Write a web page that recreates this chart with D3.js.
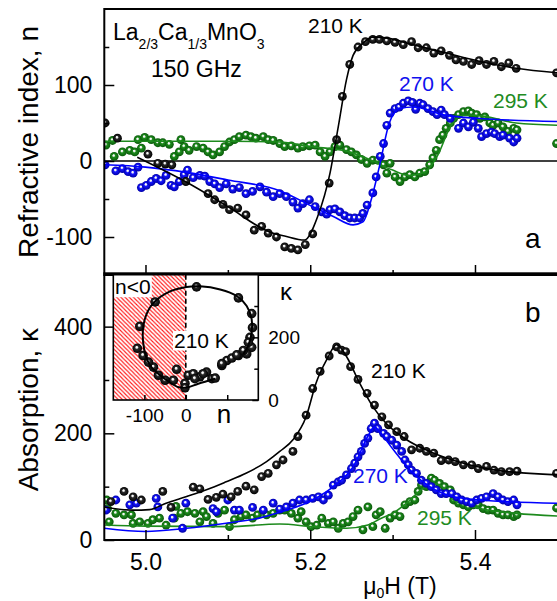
<!DOCTYPE html>
<html>
<head>
<meta charset="utf-8">
<script src="https://cdn.jsdelivr.net/npm/d3@7"></script>
<style>
  body { margin: 0; background: #fff; }
  svg { display: block; font-family: "Liberation Sans", Arial, Helvetica, sans-serif; }
</style>
</head>
<body>
<div id="chart"></div>
<script>
// ---------- data (field in T) ----------
// panel a: refractive index n
const topBlackH = [4.951,4.966,5.003,5.015,5.024,5.032,5.049,5.076,5.084,5.094,5.102,5.112,5.122,5.132,5.141,5.149,5.159,5.169,5.177,5.185,5.194,5.203,5.223,5.232,5.239,5.248,5.258,5.267,5.276,5.284,5.293,5.303,5.313,5.323,5.331,5.341,5.350,5.359,5.369,5.377,5.386,5.396,5.405,5.414,5.423,5.432,5.441,5.450,5.499];
const topBlackN = [50,30,9,-3,-4,-5,-27,-43,-51,-57,-64,-62,-71,-91,-86,-95,-100,-113,-115,-117,-110,-96,-29,28,85,127,150,157,160,160,158,156,153,157,149,149,142,145,139,133,131,127,132,127,131,124,129,122,116];
const topBlackFitH = [4.99,5.05,5.10,5.15,5.17,5.193,5.209,5.224,5.234,5.244,5.252,5.264,5.276,5.292,5.325,5.365,5.406,5.45,5.5];
const topBlackFitN = [5,-28,-60,-93,-99,-104,-73,-16,45,107,139,155,163,162,153,142,131,122,116];

const topBlueH = [4.951,4.964,4.972,4.979,4.985,4.991,4.995,5.001,5.007,5.013,5.019,5.025,5.031,5.035,5.041,5.047,5.051,5.058,5.066,5.072,5.078,5.084,5.090,5.098,5.106,5.114,5.122,5.130,5.139,5.147,5.155,5.163,5.171,5.179,5.185,5.191,5.199,5.206,5.214,5.220,5.224,5.230,5.236,5.242,5.248,5.254,5.260,5.264,5.269,5.276,5.280,5.285,5.289,5.293,5.297,5.303,5.308,5.313,5.319,5.324,5.328,5.333,5.337,5.343,5.349,5.354,5.359,5.363,5.370,5.380,5.386,5.392,5.398,5.404,5.408,5.414,5.420,5.424,5.430,5.434,5.442,5.447,5.451];
const topBlueN = [-5,-13,-10,-14,-16,-8,-35,-32,-27,-23,-26,-19,-32,-34,-27,-18,-12,-22,-19,-20,-27,-30,-35,-30,-37,-35,-43,-40,-34,-41,-47,-43,-47,-54,-62,-56,-51,-60,-67,-70,-64,-63,-67,-72,-75,-75,-75,-69,-58,-42,-21,6,23,47,63,69,71,76,79,77,68,76,74,69,65,61,67,61,56,43,50,45,51,43,32,36,38,36,32,34,30,25,30];
const topBlueFitH = [4.95,5.0,5.05,5.1,5.163,5.203,5.228,5.252,5.264,5.274,5.284,5.296,5.309,5.325,5.365,5.406,5.5];
const topBlueFitN = [-5,-8,-15,-25,-39,-60,-73,-84,-80,-51,-7,50,69,71,60,56,52];

const topGreenH = [4.952,4.960,4.991,4.999,5.007,5.015,5.021,5.029,5.043,4.962,4.972,4.981,4.987,4.995,5.035,5.041,5.047,5.053,5.062,5.070,5.076,5.082,5.090,5.096,5.102,5.108,5.114,5.122,5.128,5.134,5.143,5.149,5.155,5.163,5.169,5.177,5.185,5.191,5.199,5.206,5.212,5.218,5.224,5.230,5.236,5.244,5.250,5.256,5.262,5.269,5.276,5.282,5.289,5.293,5.297,5.303,5.309,5.315,5.321,5.327,5.333,5.339,5.345,5.349,5.353,5.357,5.361,5.365,5.370,5.374,5.380,5.386,5.392,5.396,5.402,5.406,5.412,5.418,5.422,5.428,5.434,5.440,5.447,5.451,5.499];
const topGreenN = [21,27,28,31,28,24,24,22,28,6,12,14,12,17,6,12,19,14,19,17,12,8,12,19,25,28,32,34,32,30,32,28,27,23,19,20,17,19,20,21,12,6,12,19,21,15,12,8,2,-3,1,1,-5,-16,-3,-21,-27,-21,-18,-21,-16,-14,-5,4,14,28,34,43,50,56,61,65,66,63,61,56,58,50,47,50,45,39,43,41,23];
const topGreenFitH = [4.95,5.0,5.1,5.163,5.2,5.244,5.27,5.30,5.32,5.34,5.355,5.37,5.385,5.40,5.45,5.5];
const topGreenFitN = [26,26,26,25,19,13,3,-12,-19,-14,8,45,60,60,50,47];

// panel b: absorption kappa
const botBlackH = [4.958,4.974,4.985,4.995,5.021,5.031,5.058,5.066,5.076,5.086,5.094,5.104,5.112,5.122,5.132,5.141,5.149,5.159,5.167,5.179,5.185,5.195,5.203,5.212,5.223,5.232,5.238,5.243,5.249,5.258,5.269,5.278,5.287,5.295,5.305,5.314,5.323,5.333,5.341,5.350,5.359,5.368,5.376,5.386,5.396,5.404,5.414,5.423,5.432,5.442,5.451,5.499];
const botBlackK = [72,91,81,75,91,61,99,96,76,80,86,81,91,101,94,119,125,141,150,166,194,234,284,316,345,362,356,353,325,301,275,253,231,216,203,194,169,172,166,163,149,150,147,141,141,134,138,131,128,128,129,125];
const botBlackFitH = [4.95,4.985,5.005,5.025,5.049,5.074,5.098,5.122,5.147,5.163,5.179,5.195,5.207,5.220,5.232,5.244,5.260,5.276,5.292,5.317,5.345,5.386,5.426,5.5];
const botBlackFitK = [62,56,57,69,81,94,109,125,147,166,188,231,294,338,366,344,294,250,219,188,166,144,131,122];

const botBlueH = [4.952,4.964,4.981,4.989,5.013,5.015,5.033,5.045,5.049,5.082,5.086,5.100,5.108,5.114,5.130,5.143,5.155,5.163,5.171,5.179,5.187,5.195,5.203,5.210,5.216,5.222,5.228,5.234,5.238,5.244,5.250,5.254,5.258,5.262,5.266,5.270,5.274,5.278,5.282,5.289,5.293,5.299,5.305,5.311,5.315,5.319,5.323,5.329,5.335,5.341,5.347,5.353,5.359,5.365,5.372,5.378,5.384,5.390,5.396,5.402,5.408,5.414,5.422,5.428,5.434,5.440,5.447,5.451];
const botBlueK = [56,75,66,69,78,62,41,22,69,59,53,75,56,56,61,56,69,58,62,69,75,75,78,81,75,84,103,109,112,122,134,144,156,166,181,191,209,219,209,200,194,187,178,166,150,141,131,125,112,106,100,94,87,87,87,81,75,72,69,75,78,81,87,81,75,72,75,66];
const botBlueFitH = [4.95,5.0,5.05,5.1,5.138,5.163,5.203,5.228,5.252,5.272,5.278,5.284,5.301,5.325,5.345,5.374,5.406,5.5];
const botBlueFitK = [22,16,22,32,41,52,75,100,137,200,212,203,169,125,100,81,75,69];

const botGreenH = [4.953,4.954,4.956,4.964,4.974,4.983,4.985,4.993,5.003,5.009,5.017,5.025,5.035,5.037,5.043,5.051,5.060,5.066,5.070,5.074,5.082,5.088,5.096,5.102,5.108,5.116,5.122,5.130,5.136,5.147,5.155,5.163,5.169,5.177,5.185,5.189,5.195,5.201,5.208,5.214,5.222,5.228,5.234,5.240,5.246,5.252,5.258,5.264,5.270,5.276,5.280,5.285,5.291,5.297,5.303,5.309,5.315,5.321,5.327,5.331,5.335,5.341,5.347,5.351,5.357,5.363,5.370,5.374,5.380,5.386,5.392,5.398,5.404,5.410,5.416,5.422,5.428,5.434,5.440,5.447,5.451,5.499];
const botGreenK = [75,59,34,50,47,47,31,34,31,38,41,28,41,63,50,53,50,34,53,44,31,50,56,25,38,44,47,41,47,47,50,56,56,50,41,53,34,25,28,41,31,34,22,31,34,44,56,19,62,25,47,53,22,41,47,44,66,72,75,91,103,100,116,112,106,100,94,75,69,66,62,66,66,59,56,56,50,47,47,44,47,60];
const botGreenFitH = [4.95,5.0,5.1,5.163,5.203,5.244,5.27,5.285,5.30,5.317,5.337,5.349,5.36,5.374,5.39,5.406,5.45,5.5];
const botGreenFitK = [28,26,25,30,25,22,28,40,50,69,97,106,100,75,66,59,50,45];

// inset: kappa vs n at 210 K
const insetN = [26,127,159,161,155,159,147,127,99,87,50,63,34,6,-22,-2,-2,-30,-50,-66,-78,-90,-103,-117,-111,-74,87,111,123,139,151,18,42,22,71];
const insetK = [361,326,276,231,200,168,147,142,126,110,89,68,74,79,98,53,39,63,63,79,105,121,142,165,235,313,116,134,144,158,184,84,84,68,70];
const insetFitN = [71,30,2,-20,-46,-86,-103,-99,-78,-38,2,34,83,123,147,159,159,151,139];
const insetFitK = [68,52,40,42,63,110,184,258,310,347,361,363,353,332,300,258,216,174,147];

// ---------- setup ----------
const width = 557, height = 601;
const font = "'Liberation Sans', Arial, Helvetica, sans-serif";

const svg = d3.select("#chart")
    .append("svg")
    .attr("width", width)
    .attr("height", height);

svg.append("rect").attr("width", width).attr("height", height).attr("fill", "#fff");

const x = d3.scaleLinear().domain([4.95, 5.51]).range([104.3, 565.6]);
const yTop = d3.scaleLinear().domain([-150, 200]).range([275, 9]);
const yBot = d3.scaleLinear().domain([0, 500]).range([540, 273.3]);

const defs = svg.append("defs");

// shaded sphere markers
function sphereGrad(id, mid, edge) {
    const g = defs.append("radialGradient").attr("id", id)
        .attr("cx", "50%").attr("cy", "50%").attr("r", "50%")
        .attr("fx", "42%").attr("fy", "36%");
    g.append("stop").attr("offset", "0%").attr("stop-color", "#ffffff");
    g.append("stop").attr("offset", "18%").attr("stop-color", "#f0f0f0");
    g.append("stop").attr("offset", "40%").attr("stop-color", mid);
    g.append("stop").attr("offset", "100%").attr("stop-color", edge);
}
sphereGrad("gBlack", "#2a2a2a", "#000000");
sphereGrad("gBlue", "#1515ff", "#0000a8");
sphereGrad("gGreen", "#1d8c1d", "#0b5a0b");

defs.append("clipPath").attr("id", "clipTop").append("rect")
    .attr("x", x.range()[0]).attr("y", yTop.range()[1])
    .attr("width", x.range()[1] - x.range()[0]).attr("height", yTop.range()[0] - yTop.range()[1]);
defs.append("clipPath").attr("id", "clipBot").append("rect")
    .attr("x", x.range()[0]).attr("y", yBot.range()[1])
    .attr("width", x.range()[1] - x.range()[0]).attr("height", yBot.range()[0] - yBot.range()[1]);

// red hatch for n<0
const hatch = defs.append("pattern").attr("id", "hatch")
    .attr("patternUnits", "userSpaceOnUse").attr("width", 4.2).attr("height", 4.2);
hatch.append("path")
    .attr("d", "M0,0 L4.2,4.2 M-1,3.2 L1,5.2 M3.2,-1 L5.2,1")
    .attr("stroke", "#ff1a1a").attr("stroke-width", 1.1);

function drawPoints(g, hs, vs, y, grad, r) {
    g.append("g").selectAll("circle")
        .data(d3.zip(hs, vs))
        .join("circle")
        .attr("cx", d => x(d[0]))
        .attr("cy", d => y(d[1]))
        .attr("r", r || 4.4)
        .attr("fill", `url(#${grad})`);
}

function drawFit(g, hs, vs, y, color) {
    const line = d3.line()
        .x(d => x(d[0]))
        .y(d => y(d[1]))
        .curve(d3.curveMonotoneX);
    g.append("path")
        .datum(d3.zip(hs, vs))
        .attr("fill", "none")
        .attr("stroke", color)
        .attr("stroke-width", 1.6)
        .attr("d", line);
}

// ---------- panel a ----------
const panelTop = svg.append("g").attr("clip-path", "url(#clipTop)");
panelTop.append("line")
    .attr("x1", x.range()[0]).attr("x2", x.range()[1])
    .attr("y1", yTop(0)).attr("y2", yTop(0))
    .attr("stroke", "#000").attr("stroke-width", 1.6);
drawPoints(panelTop, topGreenH, topGreenN, yTop, "gGreen");
drawFit(panelTop, topGreenFitH, topGreenFitN, yTop, "#1d8a1d");
drawPoints(panelTop, topBlueH, topBlueN, yTop, "gBlue");
drawFit(panelTop, topBlueFitH, topBlueFitN, yTop, "#0000ff");
drawPoints(panelTop, topBlackH, topBlackN, yTop, "gBlack");
drawFit(panelTop, topBlackFitH, topBlackFitN, yTop, "#000");

// ---------- panel b ----------
const panelBot = svg.append("g").attr("clip-path", "url(#clipBot)");
drawPoints(panelBot, botGreenH, botGreenK, yBot, "gGreen");
drawFit(panelBot, botGreenFitH, botGreenFitK, yBot, "#1d8a1d");
drawPoints(panelBot, botBlueH, botBlueK, yBot, "gBlue");
drawFit(panelBot, botBlueFitH, botBlueFitK, yBot, "#0000ff");
drawPoints(panelBot, botBlackH, botBlackK, yBot, "gBlack");
drawFit(panelBot, botBlackFitH, botBlackFitK, yBot, "#000");

// ---------- axes ----------
function styleAxis(g, size) {
    g.select(".domain").remove();
    g.selectAll(".tick line").attr("stroke", "#000").attr("stroke-width", 1.5);
    g.selectAll("text").attr("font-family", font).attr("font-size", size).attr("fill", "#000");
}

const x0 = x.range()[0];
// y axes, ticks pointing inward
svg.append("g").attr("transform", `translate(${x0},0)`)
    .call(d3.axisLeft(yTop).tickValues([-100, 0, 100]).tickSize(-10).tickPadding(12).tickFormat(d => d))
    .call(g => styleAxis(g, 23));
svg.append("g").attr("transform", `translate(${x0},0)`)
    .call(d3.axisLeft(yTop).tickValues([-50, 50, 150]).tickSize(-5).tickFormat(""))
    .call(g => styleAxis(g, 23));
svg.append("g").attr("transform", `translate(${x0},0)`)
    .call(d3.axisLeft(yBot).tickValues([0, 200, 400]).tickSize(-10).tickPadding(12).tickFormat(d => d))
    .call(g => styleAxis(g, 23));
svg.append("g").attr("transform", `translate(${x0},0)`)
    .call(d3.axisLeft(yBot).tickValues([100, 300]).tickSize(-5).tickFormat(""))
    .call(g => styleAxis(g, 23));

// x axes
[yTop.range()[0], yBot.range()[0]].forEach((yy, i) => {
    svg.append("g").attr("transform", `translate(0,${yy})`)
        .call(d3.axisBottom(x).tickValues([5.0, 5.2, 5.4]).tickSize(-10).tickPadding(14)
            .tickFormat(i === 1 ? d3.format(".1f") : ""))
        .call(g => styleAxis(g, 23));
    svg.append("g").attr("transform", `translate(0,${yy})`)
        .call(d3.axisBottom(x).tickValues([5.1, 5.3, 5.5]).tickSize(-5).tickFormat(""))
        .call(g => styleAxis(g, 23));
});

// frames
[[yTop.range()[1], yTop.range()[0]], [yBot.range()[1], yBot.range()[0]]].forEach(([y1, y2]) => {
    svg.append("rect")
        .attr("x", x.range()[0]).attr("y", y1)
        .attr("width", x.range()[1] - x.range()[0]).attr("height", y2 - y1)
        .attr("fill", "none").attr("stroke", "#000").attr("stroke-width", 2);
});

// axis titles
svg.append("text")
    .attr("transform", `translate(38,${(yTop.range()[0] + yTop.range()[1]) / 2}) rotate(-90)`)
    .attr("text-anchor", "middle").attr("font-size", 28).attr("font-family", font)
    .text("Refractive index, n");
svg.append("text")
    .attr("transform", `translate(38,${(yBot.range()[0] + yBot.range()[1]) / 2 + 3}) rotate(-90)`)
    .attr("text-anchor", "middle").attr("font-size", 28).attr("font-family", font)
    .text("Absorption, \u03ba");

const xt = svg.append("text").attr("x", 400).attr("y", 594)
    .attr("text-anchor", "middle").attr("font-size", 23).attr("font-family", font);
xt.append("tspan").text("\u03bc");
xt.append("tspan").attr("font-size", 14).attr("dy", 4).text("0");
xt.append("tspan").attr("dy", -4).text("H (T)");

// compound and frequency
const comp = svg.append("text").attr("x", 113).attr("y", 39.5)
    .attr("font-size", 23).attr("font-family", font);
comp.append("tspan").text("La");
comp.append("tspan").attr("font-size", 14).attr("dy", 9).text("2/3");
comp.append("tspan").attr("dy", -9).text("Ca");
comp.append("tspan").attr("font-size", 14).attr("dy", 9).text("1/3");
comp.append("tspan").attr("dy", -9).text("MnO");
comp.append("tspan").attr("font-size", 14).attr("dy", 9).text("3");

svg.append("text").attr("x", 151).attr("y", 77)
    .attr("font-size", 23).attr("font-family", font).text("150 GHz");

// series labels
const labels = [
    { t: "210 K", x: 308, y: 33, c: "#000" },
    { t: "270 K", x: 399, y: 91, c: "#1010ee" },
    { t: "295 K", x: 493, y: 108, c: "#228b22" },
    { t: "210 K", x: 371, y: 378, c: "#000" },
    { t: "270 K", x: 353, y: 483, c: "#1010ee" },
    { t: "295 K", x: 417, y: 525, c: "#228b22" }
];
svg.selectAll(null).data(labels).join("text")
    .attr("x", d => d.x).attr("y", d => d.y)
    .attr("fill", d => d.c)
    .attr("font-size", 21).attr("font-family", font)
    .text(d => d.t);

svg.append("text").attr("x", 525).attr("y", 248).attr("font-size", 28).attr("font-family", font).text("a");
svg.append("text").attr("x", 525).attr("y", 322).attr("font-size", 28).attr("font-family", font).text("b");

// ---------- inset ----------
const nX = d3.scaleLinear().domain([-175, 175]).range([113.3, 258.3]);
const kY = d3.scaleLinear().domain([0, 400]).range([400, 274.7]);
const ins = svg.append("g");
const [ix0, ix1] = nX.range();
const [iy1, iy0] = kY.range();

ins.append("rect").attr("x", ix0).attr("y", iy0).attr("width", ix1 - ix0).attr("height", iy1 - iy0).attr("fill", "#fff");
ins.append("rect").attr("x", ix0).attr("y", iy0).attr("width", nX(0) - ix0).attr("height", iy1 - iy0).attr("fill", "url(#hatch)");
ins.append("rect").attr("x", ix0).attr("y", iy0).attr("width", 38.5).attr("height", 22.5).attr("fill", "#fff");
ins.append("text").attr("x", 115).attr("y", 293.5).attr("font-size", 21).attr("font-family", font).text("n<0");
ins.append("line")
    .attr("x1", nX(0)).attr("x2", nX(0)).attr("y1", iy0).attr("y2", iy1)
    .attr("stroke", "#000").attr("stroke-width", 1.6).attr("stroke-dasharray", "5,3");
ins.append("rect").attr("x", 173).attr("y", 331).attr("width", 58).attr("height", 19.5).attr("fill", "#fff");
ins.append("text").attr("x", 174).attr("y", 348.3).attr("font-size", 21).attr("font-family", font).text("210 K");

ins.append("g").selectAll("circle")
    .data(d3.zip(insetN, insetK))
    .join("circle")
    .attr("cx", d => nX(d[0]))
    .attr("cy", d => kY(d[1]))
    .attr("r", 4.8)
    .attr("fill", "url(#gBlack)");
ins.append("path")
    .datum(d3.zip(insetFitN, insetFitK))
    .attr("fill", "none").attr("stroke", "#000").attr("stroke-width", 2)
    .attr("d", d3.line().x(d => nX(d[0])).y(d => kY(d[1])).curve(d3.curveCatmullRom));

ins.append("g").attr("transform", `translate(0,${iy1})`)
    .call(d3.axisBottom(nX).tickValues([-100, 0, 100]).tickSize(-5).tickPadding(9)
        .tickFormat(d => d === 100 ? "" : d))
    .call(g => styleAxis(g, 19));
ins.append("g").attr("transform", `translate(${ix1},0)`)
    .call(d3.axisRight(kY).tickValues([0, 200]).tickSize(-6).tickPadding(10).tickFormat(d => d))
    .call(g => styleAxis(g, 19));
ins.append("g").attr("transform", `translate(${ix1},0)`)
    .call(d3.axisRight(kY).tickValues([100, 300]).tickSize(-4).tickFormat(""))
    .call(g => styleAxis(g, 19));
ins.append("rect").attr("x", ix0).attr("y", iy0).attr("width", ix1 - ix0).attr("height", iy1 - iy0)
    .attr("fill", "none").attr("stroke", "#000").attr("stroke-width", 1.6);

ins.append("text").attr("x", 224).attr("y", 423).attr("text-anchor", "middle")
    .attr("font-size", 26).attr("font-family", font).text("n");
ins.append("text").attr("x", 280).attr("y", 300)
    .attr("font-size", 24).attr("font-family", font).text("\u03ba");
</script>
</body>
</html>
